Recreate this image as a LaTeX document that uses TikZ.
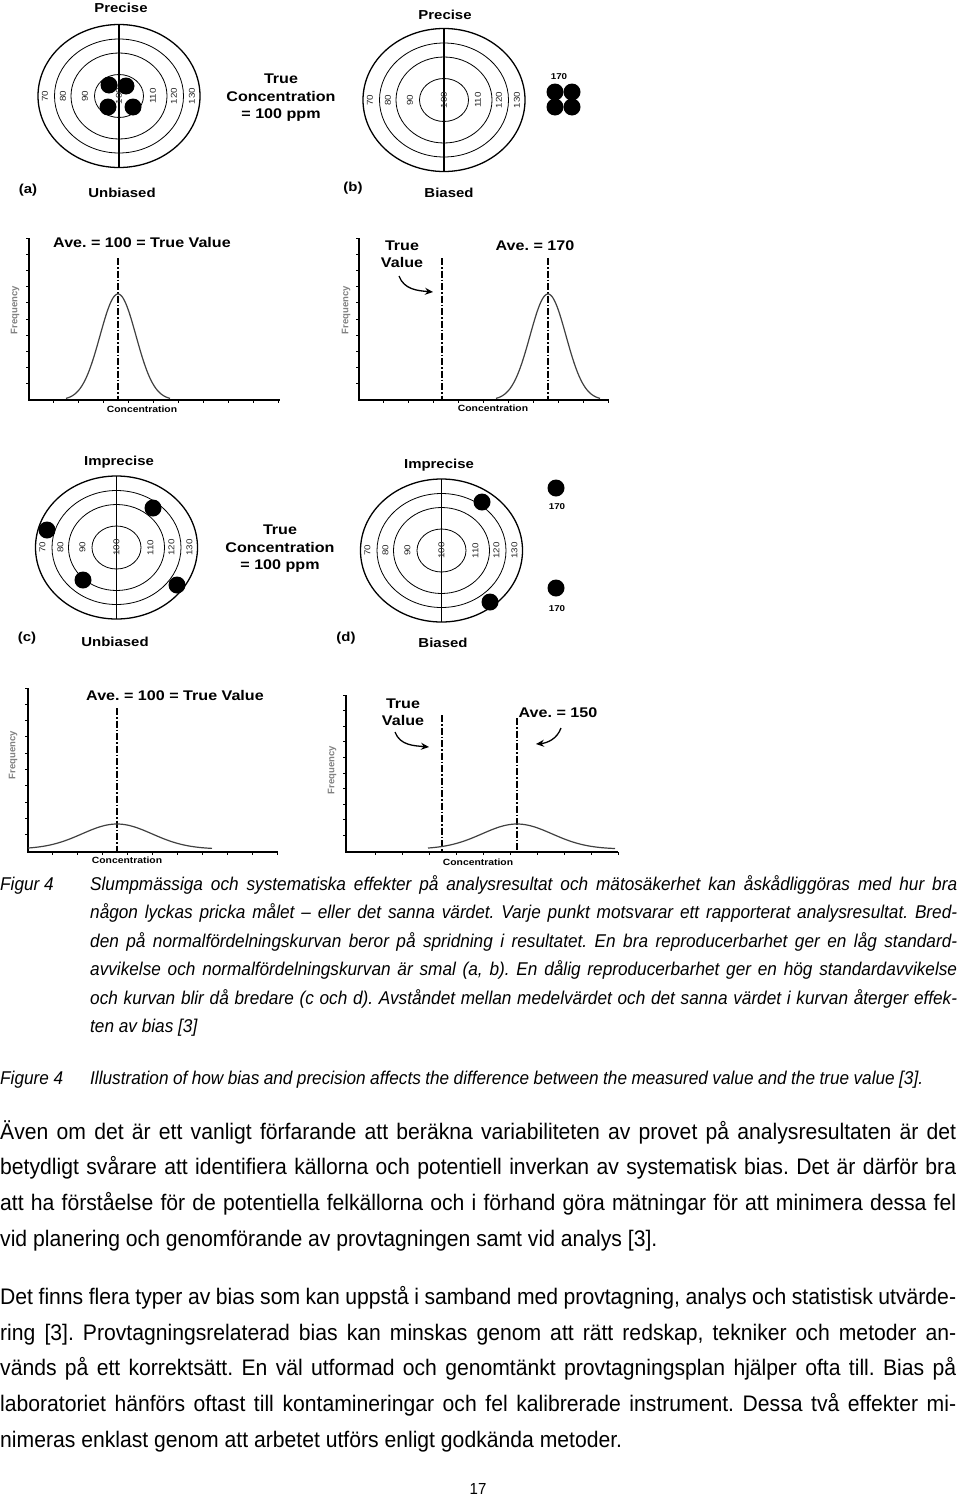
\documentclass[tikz,border=0pt]{standalone}
\usepackage{fontspec}
\setmainfont{Liberation Sans}
\newfontfamily\bodyfont[FakeStretch=0.94]{Liberation Sans}
\newfontfamily\capfont[FakeStretch=0.93]{Liberation Sans}
\newfontfamily\figfont[FakeStretch=1.15]{Liberation Sans}
\usetikzlibrary{arrows.meta}
\frenchspacing
\tikzset{
  ringline/.style={line width=0.8pt},
  outerline/.style={line width=1.3pt},
  dot/.style={circle, fill=black, inner sep=0pt, minimum size=17pt},
  rlab/.style={rotate=90, inner sep=0pt, text=black!85, font=\figfont\fontsize{8.5}{8.5}\selectfont},
  tlab/.style={inner sep=0pt, align=center, font=\figfont\bfseries\fontsize{14}{17.5}\selectfont},
  plab/.style={inner sep=0pt, font=\figfont\bfseries\fontsize{13}{15}\selectfont},
  smalllab/.style={inner sep=0pt, font=\figfont\bfseries\fontsize{8.5}{10}\selectfont},
  conclab/.style={inner sep=0pt, font=\figfont\bfseries\fontsize{9}{10}\selectfont},
  freqlab/.style={rotate=90, inner sep=0pt, text=black!50, font=\bfseries\fontsize{9.5}{10}\selectfont},
  axisline/.style={line width=1.3pt},
  tickline/.style={line width=0.9pt},
  ddline/.style={line width=1.3pt, dash pattern=on 7pt off 2pt on 1.5pt off 2pt},
  gcurve/.style={line width=1.2pt, black!75},
  curvarrow/.style={-{Stealth[length=8pt,width=7pt]}, line width=1.3pt},
  bodyline/.style={anchor=base west, inner sep=0pt, font=\bodyfont\fontsize{22.5}{26}\selectfont},
  capline/.style={anchor=base west, inner sep=0pt, font=\capfont\itshape\fontsize{18.5}{22}\selectfont},
  target/.pic={
    \draw[outerline] (0,0) ellipse [x radius=81pt, y radius=71.5pt];
    \draw[ringline] (0,0) ellipse [x radius=64.5pt, y radius=57pt];
    \draw[ringline] (0,0) ellipse [x radius=48pt, y radius=43pt];
    \draw[ringline] (0,0) ellipse [x radius=24.5pt, y radius=21.5pt];
    \draw[outerline] (0,-71.5) -- (0,71.5);
    \node[rlab] (-l70) at (-74,0) {70};
    \node[rlab] (-l80) at (-56,0) {80};
    \node[rlab] (-l90) at (-34,0) {90};
    \node[rlab] (-l100) at (0,0) {100};
    \node[rlab] (-l110) at (34,0) {110};
    \node[rlab] (-l120) at (55,0) {120};
    \node[rlab] (-l130) at (73,0) {130};
  }
}
\begin{document}
\begin{tikzpicture}[x=1pt,y=-1pt]
\fill[white] (0,0) rectangle (960,1499);
\useasboundingbox (0,0) rectangle (960,1499);

% ---------- target (a)
\node[plab] (pa) at (121,8) {Precise};
\pic (ta) at (119,96) {target};
\node[dot] (da1) at (109,85) {};
\node[dot] (da2) at (126,86) {};
\node[dot] (da3) at (108,107) {};
\node[dot] (da4) at (133,107) {};
\node[tlab] (tca) at (281,98) {True\\Concentration\\= 100 ppm};
\node[plab] (laba) at (28,190) {(a)};
\node[plab] (ua) at (122,193) {Unbiased};

% ---------- target (b)
\node[plab] (pb) at (445,15) {Precise};
\pic (tb) at (444,100) {target};
\node[smalllab] (n170b) at (559,77) {170};
\node[dot] (db1) at (555,92) {};
\node[dot] (db2) at (572,92) {};
\node[dot] (db3) at (555,107) {};
\node[dot] (db4) at (572,107) {};
\node[plab] (labb) at (353,188) {(b)};
\node[plab] (ub) at (449,193) {Biased};

% ---------- chart (a)
\draw[axisline] (29,238) -- (29,400) -- (280,400);
\foreach \k in {0,...,9} {
  \draw[tickline] (29,238+16.2*\k) -- (26,238+16.2*\k);
  \draw[tickline] (53+25*\k,400) -- (53+25*\k,403);
}
\node[freqlab] (fa) at (15,310) {Frequency};
\node[conclab] (ca) at (142,409) {Concentration};
\node[tlab] (avea) at (142,242) {Ave. = 100 = True Value};
\draw[ddline] (118,258) -- (118,400);
\draw[gcurve] plot[domain=66:170, samples=90, smooth] (\x, {400-106*exp(-((\x-118)^2)/648)});

% ---------- chart (b)
\draw[axisline] (359,238) -- (359,400) -- (609,400);
\foreach \k in {0,...,9} {
  \draw[tickline] (359,238+16.2*\k) -- (356,238+16.2*\k);
  \draw[tickline] (383+25*\k,400) -- (383+25*\k,403);
}
\node[freqlab] (fb) at (346,310) {Frequency};
\node[conclab] (cb) at (493,408) {Concentration};
\node[tlab] (tvb) at (402,254) {True\\Value};
\node[tlab] (aveb) at (535,246) {Ave. = 170};
\draw[ddline] (442,258) -- (442,400);
\draw[ddline] (548,258) -- (548,400);
\draw[gcurve] plot[domain=496:600, samples=90, smooth] (\x, {400-106*exp(-((\x-548)^2)/648)});
\coordinate (ab1s) at (399,276);
\coordinate (ab1e) at (433,292);
\draw[curvarrow] (ab1s) to[out=-70,in=175] (ab1e);

% ---------- target (c)
\node[plab] (pc) at (119,462) {Imprecise};
\pic (tc) at (116.5,547.5) {target};
\node[dot] (dc1) at (47,530) {};
\node[dot] (dc2) at (153,508) {};
\node[dot] (dc3) at (83,580) {};
\node[dot] (dc4) at (177,585) {};
\node[tlab] (tcc) at (280,549) {True\\Concentration\\= 100 ppm};
\node[plab] (labc) at (27,638) {(c)};
\node[plab] (uc) at (115,642) {Unbiased};

% ---------- target (d)
\node[plab] (pd) at (439,465) {Imprecise};
\pic (td) at (441.5,550.5) {target};
\node[dot] (dd1) at (482,502) {};
\node[dot] (dd2) at (490,602) {};
\node[dot] (dd3) at (556,488) {};
\node[smalllab] (n170d1) at (557,507) {170};
\node[dot] (dd4) at (556,588) {};
\node[smalllab] (n170d2) at (557,609) {170};
\node[plab] (labd) at (346,638) {(d)};
\node[plab] (ud) at (443,643) {Biased};

% ---------- chart (c)
\draw[axisline] (28,688) -- (28,852) -- (278,852);
\foreach \k in {0,...,9} {
  \draw[tickline] (28,688+16.3*\k) -- (25,688+16.3*\k);
  \draw[tickline] (52+25*\k,852) -- (52+25*\k,855);
}
\node[freqlab] (fc) at (13,755) {Frequency};
\node[conclab] (cc) at (127,860) {Concentration};
\node[tlab] (avec) at (175,695) {Ave. = 100 = True Value};
\draw[ddline] (117,708) -- (117,852);
\draw[gcurve] plot[domain=28:212, samples=90, smooth] (\x, {849-25*exp(-((\x-117)^2)/2450)});

% ---------- chart (d)
\draw[axisline] (346,695) -- (346,852) -- (618,852);
\foreach \k in {0,...,9} {
  \draw[tickline] (346,695+15.6*\k) -- (343,695+15.6*\k);
  \draw[tickline] (375+27*\k,852) -- (375+27*\k,855);
}
\node[freqlab] (fd) at (332,770) {Frequency};
\node[conclab] (cd) at (478,862) {Concentration};
\node[tlab] (tvd) at (403,712) {True\\Value};
\node[tlab] (aved) at (558,713) {Ave. = 150};
\draw[ddline] (442,715) -- (442,852);
\draw[ddline] (517,718) -- (517,852);
\draw[gcurve] plot[domain=428:615, samples=90, smooth] (\x, {849-25*exp(-((\x-517)^2)/2450)});
\coordinate (ad1s) at (395,732);
\coordinate (ad1e) at (429,747);
\draw[curvarrow] (ad1s) to[out=-70,in=175] (ad1e);
\coordinate (ad2s) at (561,728);
\coordinate (ad2e) at (536,744);
\draw[curvarrow] (ad2s) to[out=-110,in=5] (ad2e);

% ---------- caption
\node[capline] (fig4sv) at (0,890) {Figur 4};
\node[capline] (c1) at (90,890) {\makebox[867pt][s]{Slumpmässiga och systematiska effekter på analysresultat och mätosäkerhet kan åskådliggöras med hur bra}};
\node[capline] (c2) at (90,918.5) {\makebox[867pt][s]{någon lyckas pricka målet – eller det sanna värdet. Varje punkt motsvarar ett rapporterat analysresultat. Bred-}};
\node[capline] (c3) at (90,947) {\makebox[867pt][s]{den på normalfördelningskurvan beror på spridning i resultatet. En bra reproducerbarhet ger en låg standard-}};
\node[capline] (c4) at (90,975.5) {\makebox[867pt][s]{avvikelse och normalfördelningskurvan är smal (a, b). En dålig reproducerbarhet ger en hög standardavvikelse}};
\node[capline] (c5) at (90,1004) {\makebox[867pt][s]{och kurvan blir då bredare (c och d). Avståndet mellan medelvärdet och det sanna värdet i kurvan återger effek-}};
\node[capline] (c6) at (90,1032.5) {ten av bias [3]};
\node[capline] (fig4en) at (0,1084) {Figure 4};
\node[capline] (c7) at (90,1084) {\makebox[833pt][s]{Illustration of how bias and precision affects the difference between the measured value and the true value [3].}};

% ---------- body text
\node[bodyline] (b1) at (0,1139) {\makebox[956pt][s]{Även om det är ett vanligt förfarande att beräkna variabiliteten av provet på analysresultaten är det}};
\node[bodyline] (b2) at (0,1174.5) {\makebox[956pt][s]{betydligt svårare att identifiera källorna och potentiell inverkan av systematisk bias. Det är därför bra}};
\node[bodyline] (b3) at (0,1210) {\makebox[956pt][s]{att ha förståelse för de potentiella felkällorna och i förhand göra mätningar för att minimera dessa fel}};
\node[bodyline] (b4) at (0,1246) {vid planering och genomförande av provtagningen samt vid analys [3].};
\node[bodyline] (b5) at (0,1304) {\makebox[956pt][s]{Det finns flera typer av bias som kan uppstå i samband med provtagning, analys och statistisk utvärde-}};
\node[bodyline] (b6) at (0,1340) {\makebox[956pt][s]{ring [3]. Provtagningsrelaterad bias kan minskas genom att rätt redskap, tekniker och metoder an-}};
\node[bodyline] (b7) at (0,1375.5) {\makebox[956pt][s]{vänds på ett korrektsätt. En väl utformad och genomtänkt provtagningsplan hjälper ofta till. Bias på}};
\node[bodyline] (b8) at (0,1411) {\makebox[956pt][s]{laboratoriet hänförs oftast till kontamineringar och fel kalibrerade instrument. Dessa två effekter mi-}};
\node[bodyline] (b9) at (0,1447) {nimeras enklast genom att arbetet utförs enligt godkända metoder.};
\node[inner sep=0pt, font=\bodyfont\fontsize{16}{18}\selectfont] (pnum) at (478,1489) {17};
\end{tikzpicture}
\end{document}
